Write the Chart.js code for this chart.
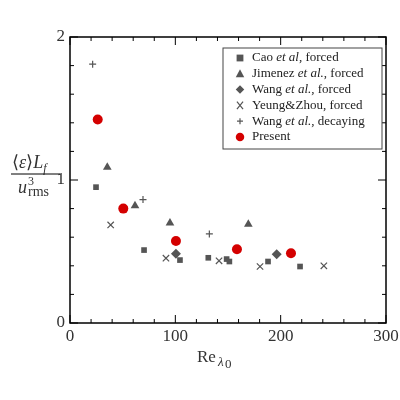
<!DOCTYPE html>
<html><head><meta charset="utf-8">
<script src="https://cdn.jsdelivr.net/npm/chart.js@4"></script>
<style>html,body{margin:0;padding:0;background:#fff}#w{width:400px;height:400px}</style>
</head><body><div id="w"><canvas id="c"></canvas></div>
<script>
const caoX=[24.7,70.3,104.4,131.3,148.7,151.3,188,218.4];
const caoY=[0.95,0.51,0.44,0.456,0.447,0.43,0.43,0.395];
const jimX=[35.4,61.7,94.9,169.3];
const jimY=[1.09,0.82,0.70,0.69];
const wangX=[100.6,196.2];
const wangY=[0.484,0.48];
const yeungX=[38.6,91.1,141.5,180.4,241];
const yeungY=[0.686,0.453,0.435,0.395,0.40];
const decX=[21.5,69.3,132.3];
const decY=[1.81,0.863,0.623];
const presX=[26.3,50.6,100.6,158.5,209.8];
const presY=[1.423,0.80,0.574,0.516,0.488];
const xTicks=[0,100,200,300];
const yTicks=[0,1,2];
const G='#555555', R='#d40000';
const pts=(xs,ys)=>xs.map((x,i)=>({x,y:ys[i]}));
const ds=[
 {label:'Cao |et al|, forced',data:pts(caoX,caoY),pointStyle:'rect',pointRadius:4,backgroundColor:G,borderColor:G,borderWidth:0},
 {label:'Jimenez |et al.|, forced',data:pts(jimX,jimY),pointStyle:'triangle',pointRadius:5,backgroundColor:G,borderColor:G,borderWidth:0},
 {label:'Wang |et al.|, forced',data:pts(wangX,wangY),pointStyle:'rectRot',pointRadius:5,backgroundColor:G,borderColor:G,borderWidth:0},
 {label:'Yeung&Zhou, forced',data:pts(yeungX,yeungY),pointStyle:'crossRot',pointRadius:4.5,backgroundColor:G,borderColor:G,borderWidth:1.2},
 {label:'Wang |et al.|, decaying',data:pts(decX,decY),pointStyle:'cross',pointRadius:3.5,backgroundColor:G,borderColor:G,borderWidth:1.2},
 {label:'Present',data:pts(presX,presY),pointStyle:'circle',pointRadius:5,backgroundColor:R,borderColor:R,borderWidth:0}
];
const F='"Liberation Serif","DejaVu Serif",serif';
const deco={id:'deco',afterDraw(ch){
 const c=ch.ctx,a=ch.chartArea,xs=ch.scales.x,ys=ch.scales.y;
 c.save();c.strokeStyle='#000';c.lineWidth=1.5;c.strokeRect(a.left,a.top,a.right-a.left,a.bottom-a.top);
 c.lineWidth=1;
 for(let v=0;v<=300;v+=20){const px=xs.getPixelForValue(v);const L=(v%100===0)?8:4;
  c.beginPath();c.moveTo(px,a.bottom);c.lineTo(px,a.bottom-L);c.moveTo(px,a.top);c.lineTo(px,a.top+L);c.stroke();}
 for(let k=0;k<=10;k++){const v=k*0.2;const py=ys.getPixelForValue(v);const L=(k%5===0)?8:4;
  c.beginPath();c.moveTo(a.left,py);c.lineTo(a.left+L,py);c.moveTo(a.right,py);c.lineTo(a.right-L,py);c.stroke();}
 c.fillStyle='#333';c.font='17px '+F;c.textAlign='center';c.textBaseline='top';
 xTicks.forEach(v=>c.fillText(String(v),xs.getPixelForValue(v),a.bottom+5));
 c.textAlign='right';c.textBaseline='middle';
 yTicks.forEach(v=>c.fillText(String(v),a.left-5,ys.getPixelForValue(v)));
 c.textAlign='left';c.textBaseline='alphabetic';c.font='17px '+F;
 c.fillText('Re',197,362);c.font='italic 13px '+F;c.fillText('λ',218,366);c.font='13px '+F;c.fillText('0',225,368);
 c.font='17px '+F;let x=12;const yb=168;
 const seg=(t,f,dy)=>{c.font=f;c.fillText(t,x,yb+(dy||0));x+=c.measureText(t).width;};
 seg('⟨','18px '+F);seg('ε','italic 18px '+F);seg('⟩','18px '+F);seg('L','italic 18px '+F);seg('f','italic 12px '+F,4);
 c.beginPath();c.moveTo(11,174);c.lineTo(60,174);c.stroke();
 x=18;const y2=193;
 c.font='italic 18px '+F;c.fillText('u',x,y2);x+=c.measureText('u').width+1;
 c.font='12px '+F;c.fillText('3',x,y2-8);c.font='14px '+F;c.fillText('rms',x,y2+3);
 const lx=223,ly=48,lw=159,lh=101;c.lineWidth=1;c.strokeStyle='#444';c.fillStyle='#fff';
 c.fillRect(lx,ly,lw,lh);c.strokeRect(lx,ly,lw,lh);
 ch.data.datasets.forEach((d,i)=>{const yy=58+i*15.8;
  c.save();c.fillStyle=d.backgroundColor;c.strokeStyle=d.borderColor;c.lineWidth=d.borderWidth||1;
  c.beginPath();
  const r=d.pointRadius*0.85;
  if(d.pointStyle==='rect'){c.fillRect(240-r,yy-r,2*r,2*r);}
  else if(d.pointStyle==='triangle'){c.moveTo(240,yy-r*1.1);c.lineTo(240+r,yy+r*0.8);c.lineTo(240-r,yy+r*0.8);c.closePath();c.fill();}
  else if(d.pointStyle==='rectRot'){c.moveTo(240,yy-r);c.lineTo(240+r,yy);c.lineTo(240,yy+r);c.lineTo(240-r,yy);c.closePath();c.fill();}
  else if(d.pointStyle==='crossRot'){c.moveTo(240-r*0.8,yy-r);c.lineTo(240+r*0.8,yy+r);c.moveTo(240+r*0.8,yy-r);c.lineTo(240-r*0.8,yy+r);c.stroke();}
  else if(d.pointStyle==='cross'){c.moveTo(240-r,yy);c.lineTo(240+r,yy);c.moveTo(240,yy-r);c.lineTo(240,yy+r);c.stroke();}
  else {c.arc(240,yy,r,0,Math.PI*2);c.fill();}
  c.restore();
  c.fillStyle='#222';c.textAlign='left';c.textBaseline='middle';
  let tx=252;d.label.split('|').forEach((p,j)=>{c.font=(j===1?'italic ':'')+'13px '+F;c.fillText(p,tx,yy);tx+=c.measureText(p).width;});
 });
 c.restore();
}};
new Chart(document.getElementById('c'),{type:'scatter',data:{datasets:ds},
 options:{responsive:true,maintainAspectRatio:false,animation:false,
  layout:{padding:{left:70,right:14,top:37,bottom:77}},
  plugins:{legend:{display:false},tooltip:{enabled:false}},
  scales:{x:{display:false,min:0,max:300},y:{display:false,min:0,max:2}}},
 plugins:[deco]});
</script></body></html>
